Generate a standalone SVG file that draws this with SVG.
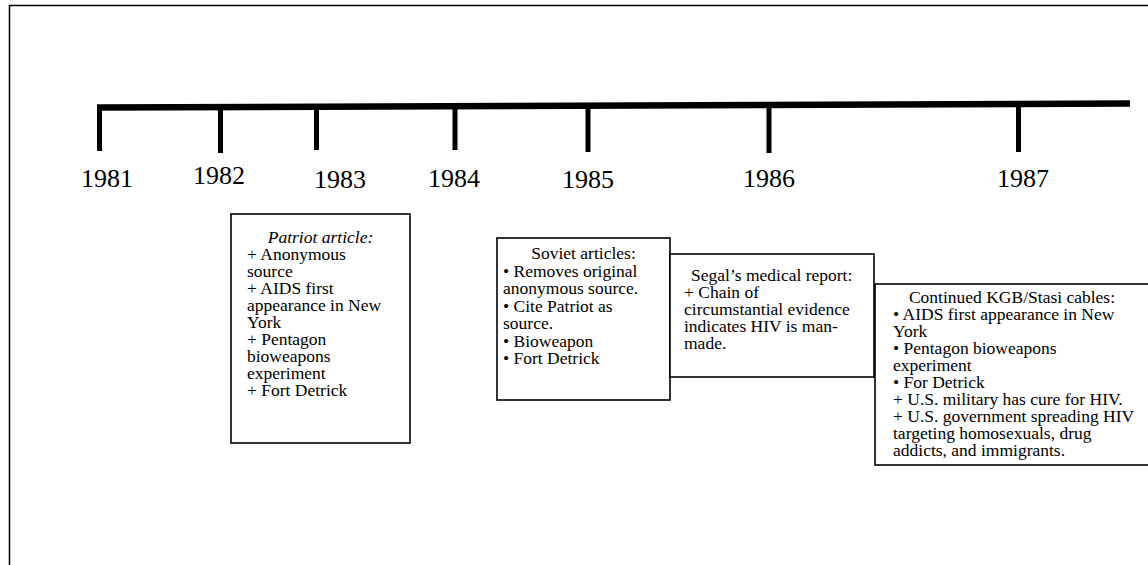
<svg xmlns="http://www.w3.org/2000/svg" width="1148" height="565" viewBox="0 0 1148 565">
  <style>
    .t { font-family: "Liberation Serif", "Times New Roman", serif; font-size: 17.5px; fill: #000; }
    .yr { font-family: "Liberation Serif", "Times New Roman", serif; font-size: 26px; fill: #000; }
    .box { fill: #fff; stroke: #000; stroke-width: 1.6; }
    .tick { stroke: #000; stroke-width: 5; fill: none; }
    .c { text-anchor: middle; }
  </style>
  <rect width="1148" height="565" fill="#fff"/>
  <path id="frame" d="M9.5,566 V5.5 H1149" fill="none" stroke="#000" stroke-width="1.5"/>

  <g id="timeline">
    <path d="M97,107.5 L1130,103.5" stroke="#000" stroke-width="6.5" fill="none"/>
    <line class="tick" x1="99.5" y1="105" x2="99.5" y2="151"/>
    <line class="tick" x1="220.5" y1="105" x2="220.5" y2="153"/>
    <line class="tick" x1="316.5" y1="105" x2="316.5" y2="150"/>
    <line class="tick" x1="455" y1="105" x2="455" y2="150"/>
    <line class="tick" x1="588" y1="105" x2="588" y2="152"/>
    <line class="tick" x1="769" y1="104" x2="769" y2="153"/>
    <line class="tick" x1="1018.5" y1="103" x2="1018.5" y2="152"/>
  </g>

  <g id="years">
    <text class="yr" x="81" y="187">1981</text>
    <text class="yr" x="193" y="184">1982</text>
    <text class="yr" x="314" y="188">1983</text>
    <text class="yr" x="428" y="187">1984</text>
    <text class="yr" x="562" y="188">1985</text>
    <text class="yr" x="743" y="187">1986</text>
    <text class="yr" x="997" y="187">1987</text>
  </g>

  <g id="patriot">
    <rect class="box" x="231" y="214" width="179" height="229"/>
    <text class="t c" x="320.5" y="243" font-style="italic">Patriot article:</text>
    <text class="t" x="247" y="260">+ Anonymous</text>
    <text class="t" x="247" y="277">source</text>
    <text class="t" x="247" y="294">+ AIDS first</text>
    <text class="t" x="247" y="311">appearance in New</text>
    <text class="t" x="247" y="328">York</text>
    <text class="t" x="247" y="345">+ Pentagon</text>
    <text class="t" x="247" y="362">bioweapons</text>
    <text class="t" x="247" y="379">experiment</text>
    <text class="t" x="247" y="396">+ Fort Detrick</text>
  </g>

  <g id="soviet">
    <rect class="box" x="497" y="238" width="173" height="162"/>
    <text class="t c" x="583.5" y="259">Soviet articles:</text>
    <text class="t" x="503" y="276.5" font-size="18">• Removes original</text>
    <text class="t" x="503" y="294" font-size="18">anonymous source.</text>
    <text class="t" x="503" y="311.5" font-size="18">• Cite Patriot as</text>
    <text class="t" x="503" y="329" font-size="18">source.</text>
    <text class="t" x="503" y="346.5" font-size="18">• Bioweapon</text>
    <text class="t" x="503" y="364" font-size="18">• Fort Detrick</text>
  </g>

  <g id="segal">
    <rect class="box" x="670" y="254" width="204" height="123"/>
    <text class="t" x="691" y="281">Segal’s medical report:</text>
    <text class="t" x="684" y="298">+ Chain of</text>
    <text class="t" x="684" y="315">circumstantial evidence</text>
    <text class="t" x="684" y="332">indicates HIV is man-</text>
    <text class="t" x="684" y="349">made.</text>
  </g>

  <g id="kgb">
    <rect class="box" x="875" y="284" width="300" height="181"/>
    <text class="t c" x="1012" y="303">Continued KGB/Stasi cables:</text>
    <text class="t" x="893" y="320">• AIDS first appearance in New</text>
    <text class="t" x="893" y="337">York</text>
    <text class="t" x="893" y="354">• Pentagon bioweapons</text>
    <text class="t" x="893" y="371">experiment</text>
    <text class="t" x="893" y="388">• For Detrick</text>
    <text class="t" x="893" y="405">+ U.S. military has cure for HIV.</text>
    <text class="t" x="893" y="422">+ U.S. government spreading HIV</text>
    <text class="t" x="893" y="439">targeting homosexuals, drug</text>
    <text class="t" x="893" y="456">addicts, and immigrants.</text>
  </g>
</svg>
